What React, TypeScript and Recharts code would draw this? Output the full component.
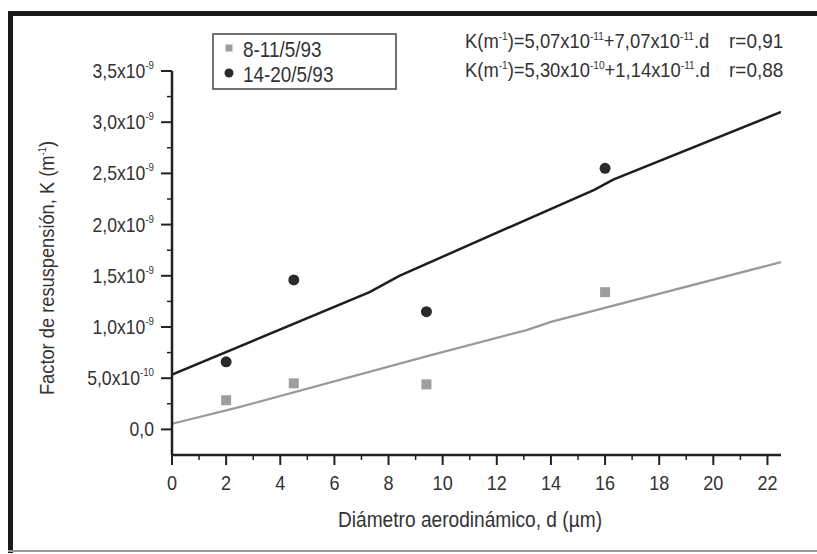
import React from "react";
import { ComposedChart, Scatter, Line, XAxis, YAxis } from "recharts";

const seriesNames = ["8-11/5/93", "14-20/5/93"];
const diameters = [2, 4.5, 9.4, 16];
const kSeriesA = [2.85e-10, 4.5e-10, 4.4e-10, 1.34e-9];
const kSeriesB = [6.6e-10, 1.46e-9, 1.15e-9, 2.55e-9];

const fitDiamA = [0, 2.3, 9.5, 13.1, 14, 22.5];
const fitKA = [5.5e-11, 2.05e-10, 7.2e-10, 9.7e-10, 1.05e-9, 1.634e-9];
const fitDiamB = [0, 7.3, 8.4, 15.6, 16.3, 22.5];
const fitKB = [5.35e-10, 1.34e-9, 1.5e-9, 2.34e-9, 2.44e-9, 3.1e-9];

const yMajorTicks = [0, 5e-10, 1e-9, 1.5e-9, 2e-9, 2.5e-9, 3e-9, 3.5e-9];
const yTickMantissas = ["0,0", "5,0x10", "1,0x10", "1,5x10", "2,0x10", "2,5x10", "3,0x10", "3,5x10"];
const yTickExponents = ["", "-10", "-9", "-9", "-9", "-9", "-9", "-9"];
const yMinorTicks = [2.5e-10, 7.5e-10, 1.25e-9, 1.75e-9, 2.25e-9, 2.75e-9, 3.25e-9];
const xMajorTicks = [0, 2, 4, 6, 8, 10, 12, 14, 16, 18, 20, 22];
const xMinorTicks = [1, 3, 5, 7, 9, 11, 13, 15, 17, 19, 21];

const xTitle = "Diámetro aerodinámico, d (µm)";
const yTitle = "Factor de resuspensión, K (m";
const equations = [
  { a: "5,07x10", ae: "-11", b: "+7,07x10", be: "-11", r: "r=0,91" },
  { a: "5,30x10", ae: "-10", b: "+1,14x10", be: "-11", r: "r=0,88" },
];

const FONT = "'Liberation Sans', Arial, sans-serif";
const INK = "#222";
const GRAY = "#9e9e9e";
const TEXT = "#333";

const scatterA = diameters.map((d, i) => ({ d, k: kSeriesA[i] }));
const scatterB = diameters.map((d, i) => ({ d, k: kSeriesB[i] }));
const fitA = fitDiamA.map((d, i) => ({ d, k: fitKA[i] }));
const fitB = fitDiamB.map((d, i) => ({ d, k: fitKB[i] }));

const near = (a: number, b: number) => Math.abs(a - b) < 1e-15;

// condensed text: Liberation Sans squeezed horizontally
const CText = ({ x, y, size, sx = 0.86, anchor = "start", rotate = 0, children }: any) => (
  <g transform={`translate(${x},${y}) rotate(${rotate}) scale(${sx},1)`}>
    <text x={0} y={0} textAnchor={anchor} fontFamily={FONT} fontSize={size} fill={TEXT}>
      {children}
    </text>
  </g>
);

const YTick = (props: any) => {
  const { x, y, payload } = props;
  const idx = yMajorTicks.findIndex((v) => near(v, payload.value));
  if (idx < 0) {
    return <line x1={x - 5} x2={x} y1={y} y2={y} stroke={INK} strokeWidth={1.5} />;
  }
  return (
    <g>
      <line x1={x - 11} x2={x} y1={y} y2={y} stroke={INK} strokeWidth={2} />
      <CText x={x - 18} y={y + 7} size={20} sx={0.88} anchor="end">
        {yTickMantissas[idx]}
        {yTickExponents[idx] ? (
          <tspan dy={-9} fontSize={11}>
            {yTickExponents[idx]}
          </tspan>
        ) : null}
      </CText>
    </g>
  );
};

const XTick = (props: any) => {
  const { x, y, payload } = props;
  const isMajor = xMajorTicks.includes(payload.value);
  if (!isMajor) {
    return <line x1={x} x2={x} y1={y} y2={y + 5} stroke={INK} strokeWidth={1.5} />;
  }
  return (
    <g>
      <line x1={x} x2={x} y1={y} y2={y + 10} stroke={INK} strokeWidth={2} />
      <CText x={x} y={y + 35} size={21} sx={0.86} anchor="middle">
        {payload.value}
      </CText>
    </g>
  );
};

const SquareDot = (props: any) => {
  const { cx, cy } = props;
  return <rect x={cx - 5} y={cy - 5} width={10} height={10} fill={GRAY} />;
};
const CircleDot = (props: any) => {
  const { cx, cy } = props;
  return <circle cx={cx} cy={cy} r={5.5} fill="#2a2a2a" />;
};

export default function App() {
  return (
    <div style={{ position: "absolute", left: 0, top: 0, width: 817, height: 554, background: "#fff" }}>
      <ComposedChart
        width={817}
        height={554}
        margin={{ top: 71, right: 36, bottom: 0, left: 0 }}
      >
        <XAxis
          dataKey="d"
          type="number"
          domain={[0, 22.5]}
          ticks={[...xMajorTicks, ...xMinorTicks].sort((a, b) => a - b)}
          interval={0}
          allowDataOverflow
          height={99}
          tickSize={0}
          tickMargin={0}
          tickLine={false}
          axisLine={{ stroke: INK, strokeWidth: 2.5 }}
          tick={<XTick />}
        />
        <YAxis
          dataKey="k"
          type="number"
          domain={[-2.5e-10, 3.5e-9]}
          ticks={[...yMajorTicks, ...yMinorTicks].sort((a, b) => a - b)}
          interval={0}
          allowDataOverflow
          width={172}
          tickSize={0}
          tickMargin={0}
          tickLine={false}
          axisLine={{ stroke: INK, strokeWidth: 2.5 }}
          tick={<YTick />}
        />
        <Line
          data={fitA}
          dataKey="k"
          type="linear"
          stroke="#999"
          strokeWidth={2.2}
          dot={false}
          isAnimationActive={false}
        />
        <Line
          data={fitB}
          dataKey="k"
          type="linear"
          stroke="#1e1e1e"
          strokeWidth={2.5}
          dot={false}
          isAnimationActive={false}
        />
        <Scatter data={scatterA} dataKey="k" name={seriesNames[0]} shape={<SquareDot />} isAnimationActive={false} />
        <Scatter data={scatterB} dataKey="k" name={seriesNames[1]} shape={<CircleDot />} isAnimationActive={false} />
      </ComposedChart>
      <svg
        width={817}
        height={554}
        style={{ position: "absolute", left: 0, top: 0, pointerEvents: "none" }}
      >
        {/* frame */}
        <line x1={10.5} x2={10.5} y1={11} y2={553} stroke="#1a1a1a" strokeWidth={5} />
        <line x1={8} x2={817} y1={13.5} y2={13.5} stroke="#1a1a1a" strokeWidth={5} />
        <line x1={8} x2={817} y1={551} y2={551} stroke="#9a9a9a" strokeWidth={2} />

        {/* legend */}
        <rect x={213} y={34} width={183} height={55} fill="#fff" stroke="#444" strokeWidth={1.5} />
        <rect x={225.5} y={44.5} width={7} height={7} fill={GRAY} />
        <CText x={243} y={57} size={22} sx={0.86}>
          {seriesNames[0]}
        </CText>
        <circle cx={229} cy={73} r={4.5} fill="#2a2a2a" />
        <CText x={243} y={82} size={22} sx={0.86}>
          {seriesNames[1]}
        </CText>

        {/* equations */}
        {equations.map((e, i) => (
          <g key={i}>
            <CText x={465} y={48 + i * 29} size={20} sx={0.92}>
              K(m<tspan dy={-8} fontSize={11}>-1</tspan>
              <tspan dy={8}>)={e.a}</tspan>
              <tspan dy={-8} fontSize={11}>{e.ae}</tspan>
              <tspan dy={8}>{e.b}</tspan>
              <tspan dy={-8} fontSize={11}>{e.be}</tspan>
              <tspan dy={8}>.d</tspan>
            </CText>
            <CText x={729} y={48 + i * 29} size={20} sx={0.95}>
              {e.r}
            </CText>
          </g>
        ))}

        {/* axis titles */}
        <CText x={470} y={527} size={22} sx={0.87} anchor="middle">
          {xTitle}
        </CText>
        <CText x={54} y={268} size={21} sx={0.87} anchor="middle" rotate={-90}>
          {yTitle}
          <tspan dy={-8} fontSize={11}>-1</tspan>
          <tspan dy={8}>)</tspan>
        </CText>
      </svg>
    </div>
  );
}
